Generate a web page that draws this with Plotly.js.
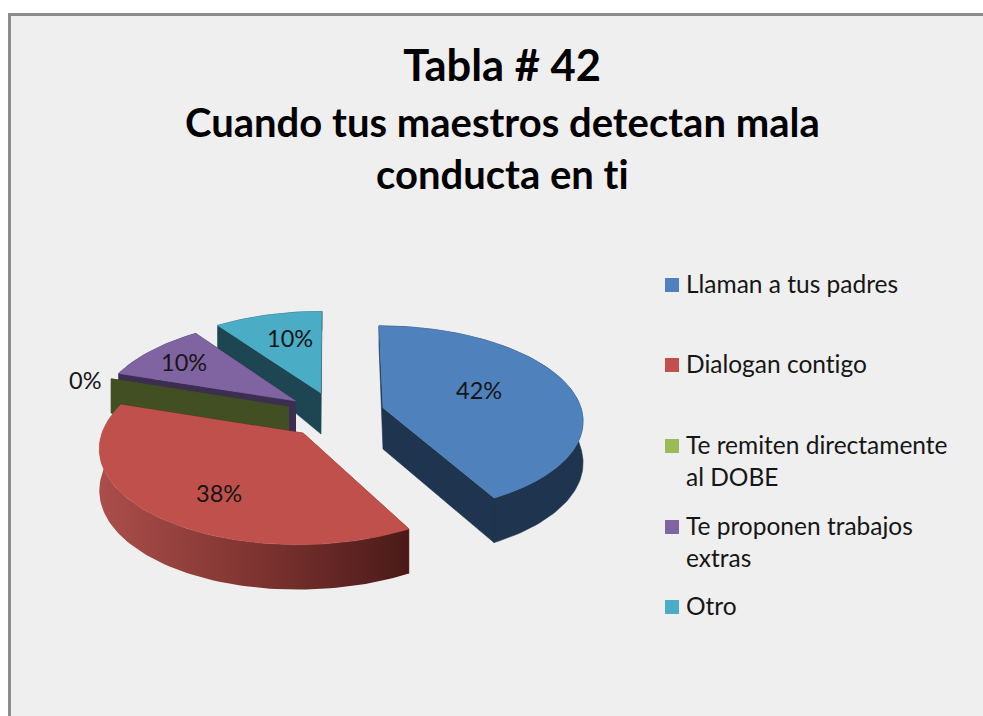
<!DOCTYPE html>
<html>
<head>
<meta charset="utf-8">
<script src="https://cdn.plot.ly/plotly-3.0.1.min.js"></script>
<style>html,body{margin:0;padding:0;background:#fff}#chart{width:983px;height:716px}
text{font-variant-ligatures:none;font-feature-settings:"liga" 0}</style>
</head>
<body>
<div id="chart"></div>
<script>
// ---- data ----
const categories = ["Llaman a tus padres", "Dialogan contigo", "Te remiten directamente al DOBE", "Te proponen trabajos extras", "Otro"];
const legendLabels = ["Llaman a tus padres", "Dialogan contigo", "Te remiten directamente<br>al DOBE", "Te proponen trabajos<br>extras", "Otro"];
const values = [42, 38, 0, 10, 10];

// ---- styles ----
const topColors = ["#4f81bd", "#bf504c", "#9bbb59", "#8064a2", "#4bacc6"];
const wallColors = ["#1f344e", "#7a2f2c", "#424f22", "#3c2e50", "#1d4652"];
const font = "Lato, Carlito, 'Noto Sans', sans-serif";
const textColor = "#161616";

// ---- 3D pie projection (exploded slices in perspective) ----
const centerX = [383, 303, 289, 296, 321];
const centerY = [408, 433, 407, 401, 393];
const radiusX = [198, 201, 195, 196, 197];
const radiusY = [92, 96, 95, 93, 93];
const persp = [0.12, 0.14, 0.14, 0.14, 0.14];
const skew = [4.5, -4.5, 0, -4.5, -1];
const labelX = [479, 219, 85, 184, 290];
const labelY = [390, 493, 380, 362, 338];
const legendX = 672, legendTextX = 684;
const legendY = [285, 365, 446, 527, 607];

function project(i, deg) {
  const t = deg * Math.PI / 180, X = Math.sin(t), Y = -Math.cos(t), w = 1 - persp[i] * Y;
  const h = 41 + (Y < 0 ? 22 * Y : 4 * Y);
  return {x: centerX[i] + (radiusX[i] * X + skew[i] * Y) / w, y: centerY[i] + radiusY[i] * Y / w, h};
}
function arc(i, a, b) {
  const pts = [], n = Math.max(2, Math.ceil(Math.abs(b - a) / 1.5));
  for (let k = 0; k <= n; k++) pts.push(project(i, a + (b - a) * k / n));
  return pts;
}
function poly(xs, ys, color, extra) {
  return Object.assign({type: "scatter", mode: "lines", x: xs, y: ys, fill: "toself", fillcolor: color,
    line: {width: 0.6, color: color}, hoverinfo: "skip", showlegend: false}, extra || {});
}

const total = values.reduce((s, v) => s + v, 0);
const starts = [];
values.reduce((acc, v, i) => { starts[i] = acc; return acc + v / total * 360; }, 0);

const traces = [];
[4, 3, 2, 1, 0].forEach(i => {
  const a = starts[i], b = a + values[i] / total * 360;
  const cx = centerX[i], cy = centerY[i], ch = 41, c = wallColors[i];
  [a, b].forEach(deg => {
    const p = project(i, deg);
    traces.push(poly([cx, p.x, p.x, cx], [cy, p.y, p.y + p.h, cy + ch], c));
  });
  if (values[i] > 0) {
    const r = arc(i, a, b);
    const xs = r.map(p => p.x).concat(r.slice().reverse().map(p => p.x));
    const ys = r.map(p => p.y).concat(r.slice().reverse().map(p => p.y + p.h));
    if (i === 1) {
      traces.push(poly(xs, ys, c, {line: {width: 0},
        fillgradient: {type: "horizontal", colorscale: [[0, "#ab4e4b"], [0.5, "#7f3431"], [1, "#4a1a18"]]}}));
    } else {
      traces.push(poly(xs, ys, c));
    }
    traces.push(poly([cx].concat(r.map(p => p.x)), [cy].concat(r.map(p => p.y)), topColors[i]));
  }
});

// legend keys
traces.push({type: "scatter", mode: "markers", x: legendY.map(() => legendX), y: legendY,
  marker: {symbol: "square", size: 14, color: topColors, line: {width: 0}},
  text: categories, hoverinfo: "text", showlegend: false});

const annotations = [];
values.forEach((v, i) => annotations.push({x: labelX[i], y: labelY[i], xref: "x", yref: "y", text: v + "%",
  showarrow: false, xanchor: "center", yanchor: "middle", font: {family: font, size: 23.5, color: textColor}}));
legendLabels.forEach((t, i) => annotations.push({x: legendTextX, y: legendY[i] - 18, xref: "x", yref: "y", text: t,
  showarrow: false, xanchor: "left", yanchor: "top", align: "left", font: {family: font, size: 24.5, color: textColor}}));
annotations.push({x: 502, y: 122, xref: "x", yref: "y", yanchor: "top", xanchor: "center", align: "center", yshift: 26,
  text: "<b>Cuando tus maestros detectan mala<br>conducta en ti</b>", showarrow: false,
  font: {family: font, size: 40, color: "#000"}});

Plotly.newPlot("chart", traces, {
  width: 983, height: 716, margin: {l: 0, r: 0, t: 0, b: 0},
  paper_bgcolor: "#ffffff", plot_bgcolor: "rgba(0,0,0,0)",
  title: {text: "<b>Tabla # 42</b>", x: 0.5107, xanchor: "center", y: 0.908, yanchor: "middle",
    font: {family: font, size: 43.5, color: "#000"}},
  xaxis: {range: [0, 983], visible: false, fixedrange: true},
  yaxis: {range: [716, 0], visible: false, fixedrange: true},
  shapes: [{type: "rect", layer: "below", xref: "x", yref: "y", x0: 9.5, y0: 14.5, x1: 1000, y1: 740,
    fillcolor: "#efefef", line: {color: "#8c8c8c", width: 3}}],
  annotations, showlegend: false
}, {displayModeBar: false, responsive: false});
</script>
</body>
</html>
